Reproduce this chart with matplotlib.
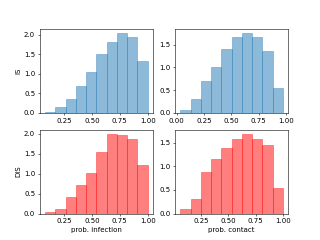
import matplotlib
matplotlib.use("Agg")
import matplotlib.pyplot as plt
import numpy as np

# Bin edges (start, stop) and density heights per panel, 10 bins each
is_inf_range = (0.08, 1.0)
is_inf_heights = [0.02, 0.15, 0.35, 0.68, 1.04, 1.51, 1.81, 2.05, 1.93, 1.34]

is_con_range = (0.035, 0.97)
is_con_heights = [0.07, 0.30, 0.69, 1.01, 1.40, 1.66, 1.76, 1.67, 1.35, 0.55]

dis_inf_range = (0.08, 1.0)
dis_inf_heights = [0.05, 0.12, 0.41, 0.71, 1.03, 1.55, 2.01, 1.98, 1.87, 1.21]

dis_con_range = (0.06, 1.0)
dis_con_heights = [0.10, 0.31, 0.87, 1.16, 1.38, 1.57, 1.69, 1.57, 1.45, 0.54]

row_labels = ["IS", "DIS"]
col_labels = ["prob. infection", "prob. contact"]
colors = ["C0", "red"]

fig, axes = plt.subplots(2, 2, figsize=(6.4, 4.8), dpi=50)

panels = [
    [(is_inf_range, is_inf_heights), (is_con_range, is_con_heights)],
    [(dis_inf_range, dis_inf_heights), (dis_con_range, dis_con_heights)],
]

for r in range(2):
    for c in range(2):
        ax = axes[r][c]
        rng, h = panels[r][c]
        edges = np.linspace(rng[0], rng[1], len(h) + 1)
        ax.hist(edges[:-1], bins=edges, weights=h, alpha=0.5,
                color=colors[r], edgecolor=colors[r], linewidth=1)
        if c == 0:
            ax.set_ylabel(row_labels[r])
        if r == 1:
            ax.set_xlabel(col_labels[c])

fig.savefig("out.png", dpi=50)
